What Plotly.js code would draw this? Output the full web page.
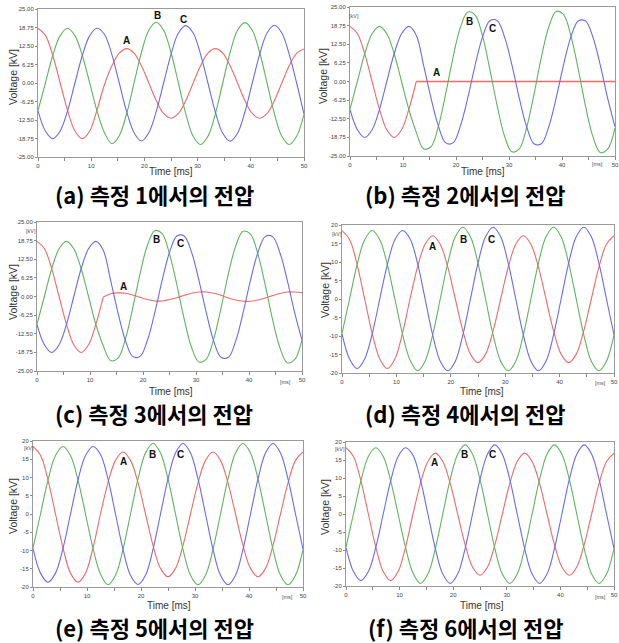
<!DOCTYPE html>
<html>
<head>
<meta charset="utf-8">
<script src="https://cdn.plot.ly/plotly-3.0.1.min.js"></script>
<style>html,body{margin:0;padding:0;background:#fff;}#chart{width:619px;height:643px;}</style>
</head>
<body>
<div id="chart"></div>
<script>
// Time axis samples [ms]
const time = [0,1.389,2.778,4.167,5.556,6.944,8.333,9.722,11.111,12.5,13.889,15.278,16.667,18.056,19.444,20.833,22.222,23.611,25,26.389,27.778,29.167,30.556,31.944,33.333,34.722,36.111,37.5,38.889,40.278,41.667,43.056,44.444,45.833,47.222,48.611,50];

// (a) measurement 1
const A_a = [18.5,16.1,9.3,0,-9.3,-16.2,-18.8,-16.2,-9.0,-0.5,5.8,10.1,11.6,10.1,5.8,0,-5.9,-10.3,-11.9,-10.3,-5.9,0,5.8,10.1,11.6,10.1,5.8,0,-5.9,-10.3,-11.9,-10.3,-5.9,0,5.8,10.0,11.5];
const B_a = [-9.3,0,9.3,16.0,18.5,16.0,9.3,0,-9.6,-16.8,-20.5,-17.8,-10.3,0,10.3,17.8,20.5,17.8,10.3,0,-10.4,-18.0,-20.8,-18.0,-10.4,0,10.3,17.8,20.4,17.8,10.3,0,-10.4,-18.0,-20.8,-18.0,-10.6];
const C_a = [-9.4,-16.2,-18.8,-16.2,-9.4,0,9.3,16.0,18.5,16.4,9.6,0,-9.7,-16.8,-19.6,-16.8,-9.7,0,9.7,16.9,19.4,16.9,9.7,0,-9.8,-17.0,-19.7,-17.0,-9.8,0,9.7,16.9,19.5,16.9,9.7,0,-10.5];

// (b) measurement 2
const A_b = [18.5,16.1,9.3,0,-9.3,-16.2,-18.8,-16.2,-9.3,0,0,0,0,0,0,0,0,0,0,0,0,0,0,0,0,0,0,0,0,0,0,0,0,0,0,0,0];
const B_b = [-9.3,0,9.3,16.0,18.5,16.0,9.3,0,-9.4,-17.0,-22.6,-21.9,-15.1,-4.1,8.1,18.2,23.3,22.3,15.3,4.1,-8.2,-18.4,-23.6,-22.6,-15.4,-4.2,8.2,18.3,23.5,22.5,15.4,4.2,-8.3,-18.5,-23.8,-22.7,-15.6];
const C_b = [-9.4,-16.2,-18.8,-16.2,-9.4,0,9.3,16.0,18.5,15.5,5.4,-5.5,-14.9,-20.6,-20.6,-14.9,-5.5,5.5,14.9,20.4,20.4,14.9,5.5,-5.6,-15.2,-20.9,-20.9,-15.2,-5.6,5.5,14.9,20.3,20.3,14.9,5.5,-5.6,-15.2];

// (c) measurement 3
const A_c = [18.5,16.1,9.3,0,-9.3,-16.2,-18.8,-16.2,-9.3,-0.2,0.9,1.2,1.1,0.5,-0.3,-1.0,-1.5,-1.5,-1.0,-0.4,0.4,1.1,1.5,1.5,1.1,0.4,-0.5,-1.2,-1.6,-1.6,-1.2,-0.5,0.3,1.0,1.5,1.5,1.3];
const B_c = [-9.3,0,9.3,16.0,18.5,16.0,9.3,0,-9.4,-16.5,-21.5,-20.7,-14.3,-3.9,7.6,17.2,22.1,21.1,14.3,3.9,-7.6,-17.1,-22.0,-21.0,-14.3,-3.9,7.6,17.0,21.9,20.9,14.3,3.9,-7.7,-17.2,-22.2,-21.2,-14.5];
const C_c = [-9.4,-16.2,-18.8,-16.2,-9.4,0,9.3,16.0,18.5,15.5,5.4,-5.4,-14.7,-20.1,-20.1,-14.7,-5.4,5.4,14.8,20.3,20.3,14.8,5.4,-5.4,-14.9,-20.4,-20.4,-14.9,-5.4,5.4,14.7,20.1,20.1,14.7,5.4,-5.4,-14.6];

// (d) measurement 4
const A_d = [18.5,16.1,9.3,0,-9.3,-16.2,-18.8,-16.2,-9.3,0,8.7,14.8,17.1,14.8,8.6,0,-8.6,-14.9,-17.2,-14.9,-8.6,0,8.6,14.8,17.1,14.8,8.6,0,-8.6,-14.9,-17.2,-14.9,-8.6,0,8.6,14.8,17.1];
const B_d = [-9.3,0,9.3,16.0,18.5,16.0,9.3,0,-9.4,-16.5,-19.4,-16.8,-9.7,0,9.7,16.8,19.4,16.8,9.7,0,-9.7,-16.8,-19.4,-16.8,-9.7,0,9.7,16.8,19.4,16.8,9.7,0,-9.7,-16.8,-19.4,-16.8,-9.7];
const C_d = [-9.4,-16.2,-18.8,-16.2,-9.4,0,9.3,16.0,18.5,16.3,9.6,0,-9.7,-16.8,-19.4,-16.8,-9.7,0,9.7,16.8,19.4,16.8,9.7,0,-9.7,-16.8,-19.4,-16.8,-9.7,0,9.7,16.8,19.4,16.8,9.7,0,-9.7];

// (e) measurement 5
const A_e = [18.5,16.1,9.3,0,-9.3,-16.2,-18.7,-16.2,-9.3,0,8.6,14.7,17.0,14.7,8.6,0,-8.6,-14.9,-17.2,-14.9,-8.6,0,8.5,14.7,17.0,14.7,8.5,0,-8.6,-14.9,-17.2,-14.9,-8.6,0,8.5,14.7,17.0];
const B_e = [-9.3,0,9.3,16.0,18.5,16.0,9.3,0,-9.4,-16.5,-19.4,-16.8,-9.7,0,9.6,16.7,19.3,16.7,9.6,0,-9.7,-16.8,-19.4,-16.8,-9.7,0,9.6,16.7,19.3,16.7,9.6,0,-9.7,-16.8,-19.4,-16.8,-9.7];
const C_e = [-9.4,-16.2,-18.7,-16.2,-9.4,0,9.3,16.0,18.5,16.3,9.6,0,-9.7,-16.8,-19.3,-16.8,-9.7,0,9.6,16.7,19.3,16.7,9.6,0,-9.7,-16.8,-19.4,-16.8,-9.7,0,9.6,16.7,19.3,16.7,9.6,0,-9.7];

// (f) measurement 6
const A_f = [18.4,16.0,9.2,0,-9.2,-16.0,-18.5,-16.0,-9.2,0,8.5,14.6,16.9,14.6,8.5,0,-8.5,-14.7,-17.0,-14.7,-8.5,0,8.5,14.6,16.9,14.6,8.5,0,-8.5,-14.7,-17.0,-14.7,-8.5,0,8.5,14.6,16.9];
const B_f = [-9.2,0,9.2,16.0,18.4,16.0,9.2,0,-9.3,-16.4,-19.3,-16.7,-9.6,0,9.6,16.6,19.2,16.6,9.6,0,-9.6,-16.7,-19.3,-16.7,-9.6,0,9.6,16.6,19.2,16.6,9.6,0,-9.6,-16.7,-19.3,-16.7,-9.6];
const C_f = [-9.3,-16.0,-18.5,-16.0,-9.3,0,9.2,16.0,18.4,16.3,9.5,0,-9.6,-16.7,-19.3,-16.7,-9.6,0,9.6,16.6,19.2,16.6,9.6,0,-9.6,-16.7,-19.3,-16.7,-9.6,0,9.6,16.6,19.2,16.6,9.6,0,-9.6];

// Tick labels
const yTicks25 = [-25,-18.75,-12.5,-6.25,0,6.25,12.5,18.75,25];
const yText25 = ['-25.00','-18.75','-12.50','-6.25','0.00','6.25','12.50','18.75','25.00'];
const yTicks20 = [-20,-15,-10,-5,0,5,10,15,20];
const yText20 = ['-20','-15','-10','-5','0','5','10','15','20'];
const xTicks = [0,10,20,30,40,50];
const xText = ['0','10','20','30','40','50'];

const captions = ['(a) 측정 1에서의 전압','(b) 측정 2에서의 전압','(c) 측정 3에서의 전압','(d) 측정 4에서의 전압','(e) 측정 5에서의 전압','(f) 측정 6에서의 전압'];
const phaseNames = ['A','B','C'];
const xTitle = 'Time [ms]';
const yTitle = 'Voltage [kV]';
const faultIndex = 9;

const W = 619, H = 643;
const colors = ['#f06a6a','#5fb55f','#6a6af2'];

const panels = [
  {A:A_a,B:B_a,C:C_a, box:[38,304,9,157], big:true, split:false, unit:false,
   lab:[[16.7,14.3],[22.4,22.7],[27.3,21.5]], ytl:[13,77], xtl:[171,171.5], cap:[154,193.5]},
  {A:A_b,B:B_b,C:C_b, box:[350,615,7,156], big:true, split:true, unit:true,
   lab:[[16.4,2.9],[22.5,20.1],[26.8,17.9]], ytl:[323,76], xtl:[483,171.5], cap:[465,193.5], kv:[354,16], ms:[597,164]},
  {A:A_c,B:B_c,C:C_c, box:[37,302,222,371], big:true, split:true, unit:true,
   lab:[[16.4,3.2],[22.6,19.0],[27.0,17.8]], ytl:[13,292], xtl:[171,391], cap:[154,412.5], kv:[31,231], ms:[285,382]},
  {A:A_d,B:B_d,C:C_d, box:[342,614,225,373], big:false, split:false, unit:true,
   lab:[[16.7,14.1],[22.4,16.2],[27.5,16.2]], ytl:[325,290], xtl:[482,391], cap:[465,412.5], kv:[337,234], ms:[600,383]},
  {A:A_e,B:B_e,C:C_e, box:[33,303,441,587], big:false, split:false, unit:true,
   lab:[[16.7,14.3],[22.2,16.4],[27.3,16.4]], ytl:[13,506], xtl:[169,605], cap:[154,627], kv:[29,448], ms:[287,597]},
  {A:A_f,B:B_f,C:C_f, box:[346,614,442,586], big:false, split:false, unit:true,
   lab:[[16.5,14.25],[22.2,16.4],[27.4,16.4]], ytl:[325,507], xtl:[482,605], cap:[465,627], kv:[340,449], ms:[600,597]}
];

const data = [];
const layout = {
  width: W, height: H, margin:{l:0,r:0,t:0,b:0},
  paper_bgcolor:'#fff', plot_bgcolor:'#fff', showlegend:false,
  annotations: []
};
const tickFont = {family:'Liberation Sans, Arial, sans-serif', size:6, color:'#444'};

panels.forEach((p, i) => {
  const n = i + 1;
  const xa = 'x' + (n === 1 ? '' : n), ya = 'y' + (n === 1 ? '' : n);
  const xKey = 'xaxis' + (n === 1 ? '' : n), yKey = 'yaxis' + (n === 1 ? '' : n);
  const [l, r, t, b] = p.box;
  layout[xKey] = {
    domain:[l/W, r/W], anchor: ya, range:[0,50],
    tickmode:'array', tickvals:xTicks, ticktext:xText,
    ticks:'outside', ticklen:3, tickcolor:'#888', tickwidth:1,
    minor:{tickmode:'linear', tick0:0, dtick:5, ticks:'outside', ticklen:3, tickcolor:'#888', tickwidth:1, showgrid:false},
    showline:true, linecolor:'#9a9a9a', linewidth:1, mirror:true,
    showgrid:false, zeroline:false, tickfont:tickFont, fixedrange:true
  };
  layout[yKey] = {
    domain:[1 - b/H, 1 - t/H], anchor: xa,
    range: p.big ? [-25,25] : [-20,20],
    tickmode:'array', tickvals: p.big ? yTicks25 : yTicks20, ticktext: p.big ? yText25 : yText20,
    ticks:'outside', ticklen:2, tickcolor:'#888', tickwidth:1,
    showline:true, linecolor:'#9a9a9a', linewidth:1, mirror:true,
    showgrid:false, zeroline:false, tickfont:tickFont, fixedrange:true
  };
  const series = [p.A, p.B, p.C];
  series.forEach((s, j) => {
    const mk = (xs, ys) => {
      const flat = ys.every(v => v === ys[0]);
      return {type:'scatter', mode:'lines', xaxis:xa, yaxis:ya, hoverinfo:'skip',
              x: xs, y: ys, line:{color:colors[j], width: flat ? 1.4 : 1.1, shape: flat ? 'linear' : 'spline', smoothing:1}};
    };
    if (j === 0 && p.split) {
      data.push(mk(time.slice(0, faultIndex + 1), s.slice(0, faultIndex + 1)));
      data.push(mk(time.slice(faultIndex), s.slice(faultIndex)));
    } else {
      data.push(mk(time, s));
    }
  });
  // phase labels
  p.lab.forEach((pt, j) => {
    layout.annotations.push({xref:xa, yref:ya, x:pt[0], y:pt[1], text:'<b>' + phaseNames[j] + '</b>',
      showarrow:false, xanchor:'center', yanchor:'middle',
      font:{family:'Liberation Sans, Arial, sans-serif', size:10, color:'#111'}});
  });
  // axis titles
  layout.annotations.push({xref:'paper', yref:'paper', x:p.ytl[0]/W, y:1 - p.ytl[1]/H, text:yTitle,
    textangle:-90, showarrow:false, xanchor:'center', yanchor:'middle',
    font:{family:'Liberation Sans, Arial, sans-serif', size:10.5, color:'#333'}});
  layout.annotations.push({xref:'paper', yref:'paper', x:p.xtl[0]/W, y:1 - p.xtl[1]/H, text:xTitle,
    showarrow:false, xanchor:'center', yanchor:'middle', borderpad:0,
    font:{family:'Liberation Sans, Arial, sans-serif', size:10, color:'#333'}});
  // caption
  layout.annotations.push({xref:'paper', yref:'paper', x:p.cap[0]/W, y:1 - p.cap[1]/H, text:'<b>' + captions[i] + '</b>',
    showarrow:false, xanchor:'center', yanchor:'middle', borderpad:0,
    font:{family:'Noto Sans CJK KR, sans-serif', size:22, color:'#000'}});
  if (p.unit) {
    layout.annotations.push({xref:'paper', yref:'paper', x:p.kv[0]/W, y:1 - p.kv[1]/H, text:'[kV]',
      showarrow:false, xanchor:'center', yanchor:'middle',
      font:{family:'Liberation Sans, Arial, sans-serif', size:5.5, color:'#555'}});
    layout.annotations.push({xref:'paper', yref:'paper', x:p.ms[0]/W, y:1 - p.ms[1]/H, text:'[ms]',
      showarrow:false, xanchor:'center', yanchor:'middle',
      font:{family:'Liberation Sans, Arial, sans-serif', size:5.5, color:'#555'}});
  }
});

Plotly.newPlot('chart', data, layout, {staticPlot:true, displayModeBar:false});
</script>
</body>
</html>
